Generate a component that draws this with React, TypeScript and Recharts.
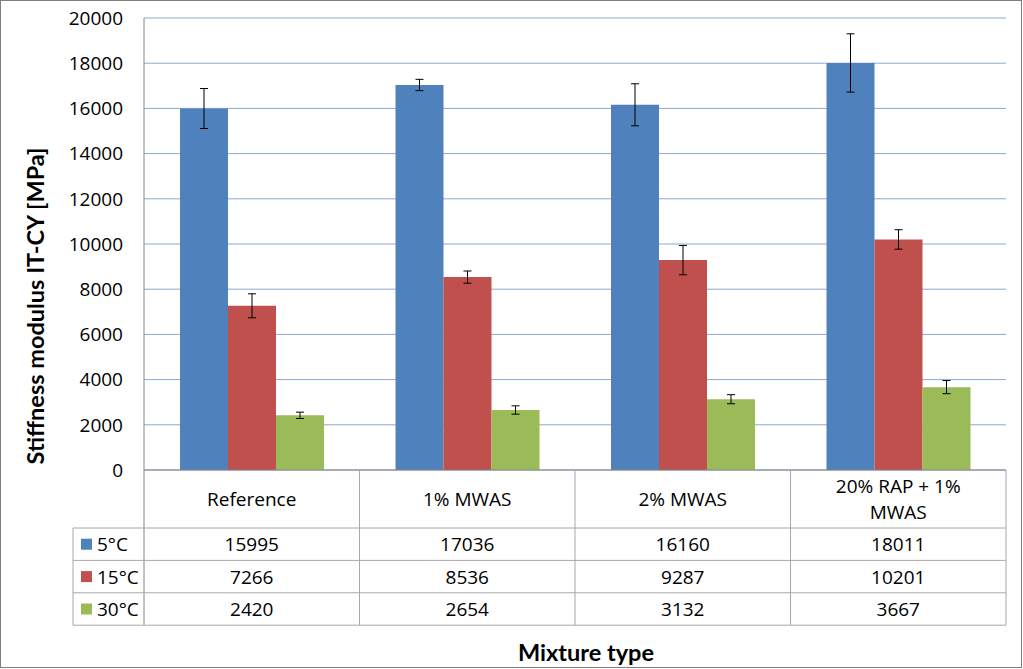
import React from 'react';
import { BarChart, Bar, XAxis, YAxis, CartesianGrid, ErrorBar } from 'recharts';

const categories = ['Reference', '1% MWAS', '2% MWAS', '20% RAP + 1% MWAS'];
const seriesNames = ['5°C', '15°C', '30°C'];
const values5 = [15995, 17036, 16160, 18011];
const values15 = [7266, 8536, 9287, 10201];
const values30 = [2420, 2654, 3132, 3667];
const err5 = [885, 250, 930, 1290];
const err15 = [530, 270, 650, 430];
const err30 = [140, 185, 200, 290];
const yTicks = [0, 2000, 4000, 6000, 8000, 10000, 12000, 14000, 16000, 18000, 20000];
const colors = ['#4F81BD', '#C0504D', '#9BBB59'];

const seriesValues = [values5, values15, values30];

const data = categories.map((name, i) => ({
  name,
  t5: values5[i],
  e5: err5[i],
  t15: values15[i],
  e15: err15[i],
  t30: values30[i],
  e30: err30[i],
}));

const W = 1023;
const H = 669;
const PLOT_LEFT = 144;
const PLOT_RIGHT = 1006;
const PLOT_TOP = 18;
const PLOT_BOTTOM = 470;
const HEADER_BOTTOM = 528;
const ROW_H = 32.4;
const LEGEND_LEFT = 73;
const TABLE_BOTTOM = HEADER_BOTTOM + ROW_H * 3;
const FONT = '"Open Sans", Lato, sans-serif';
const BOLD_FONT = 'Lato, "Open Sans", sans-serif';
const FS = 19;
const AXIS_GRAY = '#868686';
const TABLE_GRAY = '#A8A8A8';

const wrap = (s: string, max = 12): string[] => {
  const words = s.split(' ');
  const lines: string[] = [];
  let cur = '';
  words.forEach((w) => {
    const cand = cur ? cur + ' ' + w : w;
    if (cand.length > max && cur) {
      lines.push(cur);
      cur = w;
    } else {
      cur = cand;
    }
  });
  if (cur) lines.push(cur);
  return lines;
};

const renderTick = (props: any) => {
  const { x, payload } = props;
  const index = categories.indexOf(payload.value);
  const catW = (PLOT_RIGHT - PLOT_LEFT) / categories.length;
  const left = x - catW / 2;
  const right = x + catW / 2;
  const lines = wrap(String(payload.value));
  const headerMid = (PLOT_BOTTOM + HEADER_BOTTOM) / 2;
  const lh = 26;
  const startY = headerMid - ((lines.length - 1) * lh) / 2;
  const rowLines = [0, 1, 2, 3].map((k) => HEADER_BOTTOM + k * ROW_H);
  return (
    <g>
      {index === 0 && (
        <g>
          <line x1={left} y1={PLOT_BOTTOM} x2={left} y2={TABLE_BOTTOM} stroke={AXIS_GRAY} />
          <line x1={LEGEND_LEFT} y1={HEADER_BOTTOM} x2={LEGEND_LEFT} y2={TABLE_BOTTOM} stroke={TABLE_GRAY} />
          {rowLines.map((y, k) => (
            <line key={'lg' + k} x1={LEGEND_LEFT} y1={y} x2={left} y2={y} stroke={TABLE_GRAY} />
          ))}
          {seriesNames.map((s, k) => {
            const cy = HEADER_BOTTOM + ROW_H * (k + 0.5);
            return (
              <g key={'leg' + k}>
                <rect x={81} y={cy - 5.5} width={11} height={11} fill={colors[k]} />
                <text x={97} y={cy} dominantBaseline="central" fontFamily={FONT} fontSize={FS} fill="#000">
                  {s}
                </text>
              </g>
            );
          })}
        </g>
      )}
      <line x1={right} y1={PLOT_BOTTOM} x2={right} y2={TABLE_BOTTOM} stroke={TABLE_GRAY} />
      {rowLines.map((y, k) => (
        <line key={'rl' + k} x1={left} y1={y} x2={right} y2={y} stroke={TABLE_GRAY} />
      ))}
      {lines.map((ln, k) => (
        <text
          key={'h' + k}
          x={x}
          y={startY + k * lh}
          textAnchor="middle"
          dominantBaseline="central"
          fontFamily={FONT}
          fontSize={FS}
          fill="#000"
        >
          {ln}
        </text>
      ))}
      {seriesValues.map((vals, k) => (
        <text
          key={'v' + k}
          x={x}
          y={HEADER_BOTTOM + ROW_H * (k + 0.5)}
          textAnchor="middle"
          dominantBaseline="central"
          fontFamily={FONT}
          fontSize={FS}
          fill="#000"
        >
          {vals[index]}
        </text>
      ))}
    </g>
  );
};

const YTitle = () => {
  const cy = 306;
  return (
    <text
      x={35}
      y={cy}
      transform={`rotate(-90, 35, ${cy})`}
      textAnchor="middle"
      dominantBaseline="central"
      fontFamily={BOLD_FONT}
      fontWeight="bold"
      fontSize={23.5}
      fill="#000"
    >
      Stiffness modulus IT-CY [MPa]
    </text>
  );
};

const XTitle = (props: any) => {
  const vb = props.viewBox || {};
  const cx = (vb.x ?? PLOT_LEFT) + (vb.width ?? PLOT_RIGHT - PLOT_LEFT) / 2 + 11;
  return (
    <text
      x={cx}
      y={652}
      textAnchor="middle"
      dominantBaseline="central"
      fontFamily={BOLD_FONT}
      fontWeight="bold"
      fontSize={23.5}
      fill="#000"
    >
      Mixture type
    </text>
  );
};

export default function App() {
  return (
    <div style={{ position: 'absolute', left: 0, top: 0, width: W, height: H, background: '#fff' }}>
      <BarChart
        width={W}
        height={H}
        data={data}
        margin={{ top: PLOT_TOP, right: W - PLOT_RIGHT, bottom: 0, left: 0 }}
        barGap={0}
        barSize={48}
      >
        <rect x={0.5} y={0.5} width={W - 2} height={H - 2} fill="none" stroke="#7F7F7F" />
        <CartesianGrid vertical={false} stroke="#8FA7D2" strokeWidth={1} />
        <XAxis
          dataKey="name"
          height={H - PLOT_BOTTOM}
          interval={0}
          tickLine={false}
          axisLine={{ stroke: AXIS_GRAY }}
          tick={renderTick}
          label={(p: any) => <XTitle {...p} />}
        />
        <XAxis xAxisId="top" dataKey="name" orientation="top" height={0} tick={false} tickLine={false} axisLine={{ stroke: AXIS_GRAY }} />
        <YAxis
          width={PLOT_LEFT}
          domain={[0, 20000]}
          ticks={yTicks}
          interval={0}
          tickLine={false}
          tickMargin={15}
          axisLine={{ stroke: AXIS_GRAY }}
          tick={{ fill: '#000', fontSize: FS, fontFamily: FONT }}
          label={() => <YTitle />}
        />
        <YAxis yAxisId="right" orientation="right" width={0} domain={[0, 20000]} ticks={yTicks} tick={false} tickLine={false} axisLine={{ stroke: AXIS_GRAY }} />
        <Bar dataKey="t5" name={seriesNames[0]} fill={colors[0]} isAnimationActive={false}>
          <ErrorBar dataKey="e5" width={4} stroke="#000" strokeWidth={1} direction="y" />
        </Bar>
        <Bar dataKey="t15" name={seriesNames[1]} fill={colors[1]} isAnimationActive={false}>
          <ErrorBar dataKey="e15" width={4} stroke="#000" strokeWidth={1} direction="y" />
        </Bar>
        <Bar dataKey="t30" name={seriesNames[2]} fill={colors[2]} isAnimationActive={false}>
          <ErrorBar dataKey="e30" width={4} stroke="#000" strokeWidth={1} direction="y" />
        </Bar>
      </BarChart>
    </div>
  );
}
